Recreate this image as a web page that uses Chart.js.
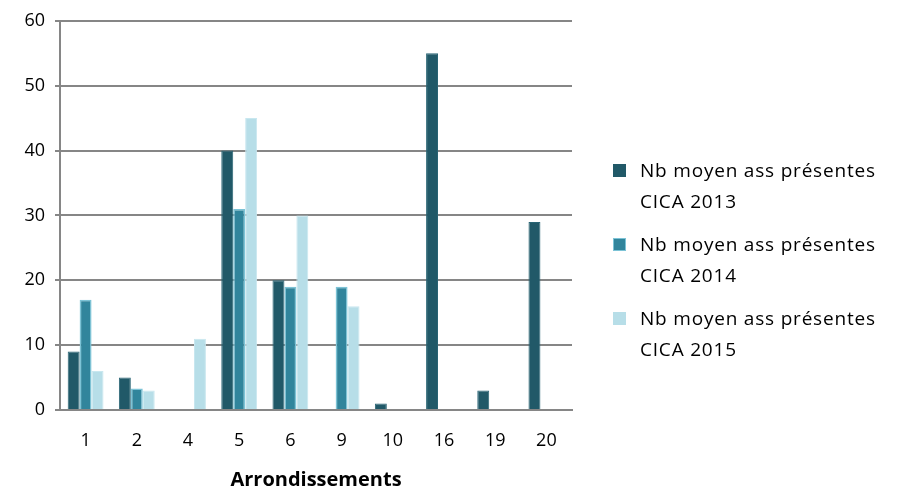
<!DOCTYPE html>
<html>
<head>
<meta charset="utf-8">
<script src="https://cdn.jsdelivr.net/npm/chart.js@4/dist/chart.umd.min.js"></script>
<style>
  html, body { margin: 0; padding: 0; background: #fff; }
  #wrap { position: relative; width: 897px; height: 488px; }
  #legend { position: absolute; left: 613px; top: 155px; font-family: "Open Sans", sans-serif; font-size: 19px; letter-spacing: 0.8px; color: #000; }
  .item { position: relative; padding-left: 27px; line-height: 31px; margin-bottom: 12px; }
  .box { position: absolute; left: 0; top: 9px; width: 13px; height: 13px; box-sizing: border-box; }
</style>
</head>
<body>
<div id="wrap">
  <canvas id="c" width="897" height="488"></canvas>
  <div id="legend"></div>
</div>
<script>
const labels = ['1', '2', '4', '5', '6', '9', '10', '16', '19', '20'];
const cica2013 = [9, 5, 0, 40, 20, 0, 1, 55, 3, 29];
const cica2014 = [17, 3.3, 0, 31, 19, 19, 0, 0, 0, 0];
const cica2015 = [6, 3, 11, 45, 30, 16, 0, 0, 0, 0];
const seriesNames = [
  ['Nb moyen ass présentes', 'CICA 2013'],
  ['Nb moyen ass présentes', 'CICA 2014'],
  ['Nb moyen ass présentes', 'CICA 2015']
];

const fontFamily = '"Open Sans", sans-serif';

const chart = new Chart(document.getElementById('c'), {
  type: 'bar',
  data: {
    labels: labels,
    datasets: [
      { label: seriesNames[0].join(' '), data: cica2013, backgroundColor: '#215968', borderColor: '#2a6575', borderWidth: 1 },
      { label: seriesNames[1].join(' '), data: cica2014, backgroundColor: '#31859c', borderColor: '#7cc3d6', borderWidth: 1.5 },
      { label: seriesNames[2].join(' '), data: cica2015, backgroundColor: '#b7dee8', borderColor: '#c8e7ef', borderWidth: 1 }
    ]
  },
  options: {
    responsive: false,
    animation: false,
    layout: { padding: { top: 20, right: 325, left: 5, bottom: 0 } },
    datasets: { bar: { categoryPercentage: 0.7, barPercentage: 1 } },
    plugins: {
      legend: { display: false },
      tooltip: { enabled: false }
    },
    scales: {
      x: {
        grid: { display: false },
        border: { color: '#868686', width: 2 },
        ticks: { color: '#000', font: { family: fontFamily, size: 18 }, padding: 12 },
        title: { display: true, text: 'Arrondissements', color: '#000', font: { family: fontFamily, size: 20, weight: 'bold', lineHeight: 1 }, padding: { top: 10, bottom: -2 } },
        afterFit: s => { s.height = 78; }
      },
      y: {
        min: 0, max: 60,
        ticks: { stepSize: 10, color: '#000', font: { family: fontFamily, size: 18 }, padding: 10 },
        grid: { color: '#868686', lineWidth: 2, tickLength: 5 },
        border: { color: '#868686', width: 2 },
        afterFit: s => { s.width = 55; }
      }
    }
  }
});

// légende HTML sur deux lignes
const colors = ['#215968', '#31859c', '#b7dee8'];
const legend = document.getElementById('legend');
seriesNames.forEach((name, i) => {
  const div = document.createElement('div');
  div.className = 'item';
  div.innerHTML = '<span class="box" style="background:' + colors[i] + (i === 1 ? ';border:1.5px solid #7cc3d6' : '') + '"></span>' + name[0] + '<br>' + name[1];
  legend.appendChild(div);
});
</script>
</body>
</html>
